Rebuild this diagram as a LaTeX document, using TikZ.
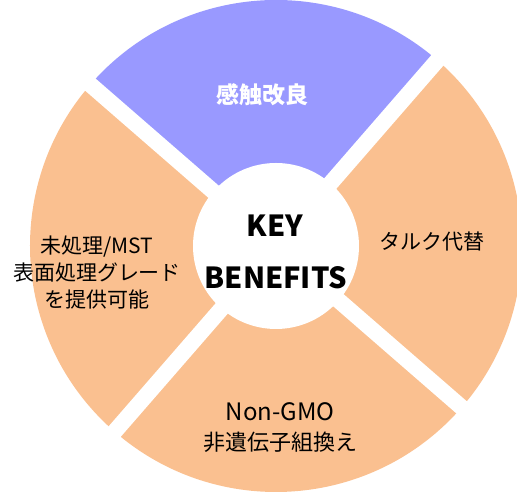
\documentclass[tikz,border=0pt]{standalone}
\usepackage{fontspec}
\usetikzlibrary{calc}
\setmainfont{Noto Sans CJK JP}
\definecolor{peach}{HTML}{FAC090}
\definecolor{lilac}{HTML}{9999FF}
\tikzset{
  lbl/.style={font=\fontsize{21}{27}\selectfont, text=black, align=center, inner sep=0pt},
  keylbl/.style={font=\fontsize{29}{34}\selectfont\bfseries, text=black, inner sep=0pt},
  gap/.style={draw=white, line width=16pt}
}
\begin{document}
\begin{tikzpicture}[x=1pt,y=1pt]
\useasboundingbox (0,0) rectangle (517,502);
\clip (0,0) rectangle (517,502);
\coordinate (c) at (276,256);
\def\R{246}
\fill[lilac] (c) -- ++(49:\R) arc[start angle=49, end angle=139, radius=\R] -- cycle;
\fill[peach] (c) -- ++(139:\R) arc[start angle=139, end angle=229, radius=\R] -- cycle;
\fill[peach] (c) -- ++(229:\R) arc[start angle=229, end angle=319, radius=\R] -- cycle;
\fill[peach] (c) -- ++(319:\R) arc[start angle=319, end angle=409, radius=\R] -- cycle;
\draw[gap] ($(c)+(49:260)$) -- ($(c)+(229:260)$);
\draw[gap] ($(c)+(139:260)$) -- ($(c)+(319:260)$);
\fill[white] (c) circle[radius=83];
\node[keylbl] (key) at (275,276) {KEY};
\node[keylbl] (ben) at (276,224) {BENEFITS};
\node[lbl, text=white, font=\fontsize{23}{27}\selectfont\bfseries] (top) at (262,407) {感触改良};
\node[lbl] (right) at (432,260) {タルク代替};
\node[lbl] (left) at (97,229) {未処理/MST\\表面処理グレード\\を提供可能};
\node[lbl, font=\fontsize{22}{30}\selectfont] (bottom) at (280,74) {{\fontsize{24}{30}\selectfont Non-GMO}\\非遺伝子組換え};
\end{tikzpicture}
\end{document}
